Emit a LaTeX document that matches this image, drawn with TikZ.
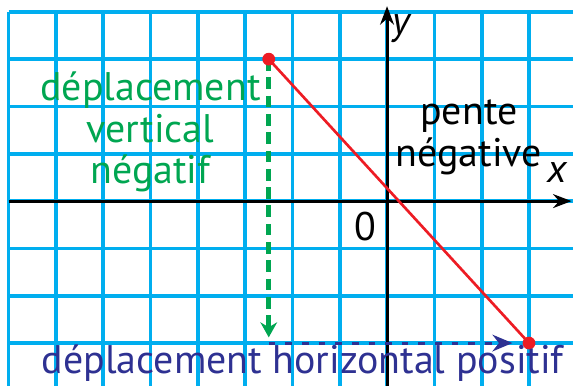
\documentclass[tikz,border=0pt]{standalone}
\usepackage{fontspec}
\setmainfont{PT Sans}
\usetikzlibrary{arrows.meta}
\definecolor{gridblue}{RGB}{0,174,239}
\definecolor{segred}{RGB}{237,28,36}
\definecolor{vertgreen}{RGB}{0,166,81}
\definecolor{horizblue}{RGB}{46,49,146}
\tikzset{
  gridline/.style={gridblue,line width=2.2pt},
  axisline/.style={->,line width=1.8pt},
  dot/.style={circle,fill=segred,inner sep=0pt,minimum size=0.27cm},
  lbl/.style={font=\fontsize{24}{25}\selectfont,inner sep=0pt},
}

\begin{document}
\begin{tikzpicture}[line width=0.8pt,>=Stealth]
\useasboundingbox (-8.18,-3.91) rectangle (3.93,4.25);
% ================= grid =================
\foreach \i in {-8,...,3}
  \draw[gridline] (\i,4) -- (\i,-3.91);
\foreach \j in {-3,...,4}
  \draw[gridline] (-8,\j) -- (3.93,\j);
% ================= axes =================
\draw[axisline] (-8,0) -- (3.9,0);
\draw[axisline] (0,-3.91) -- (0,4.12);
\node[lbl] (lblX) at (3.6,0.6) {\itshape x};
\node[lbl] (lblY) at (0.3,3.65) {\itshape y};
\node[lbl] (lblO) at (-0.45,-0.53) {0};
% ================= segment and displacements =================
\coordinate (P1) at (-2.5,3);
\coordinate (P2) at (3,-3);
\coordinate (Q) at (-2.5,-3);
\draw[segred,line width=1.6pt] (P1) -- (P2);
% vertical displacement (down), then horizontal (right)
\draw[vertgreen,line width=2.8pt,dash pattern=on 7pt off 4pt,
  -{Stealth[length=9pt,width=10pt]},shorten >=0.12cm] (P1) -- (Q);
\draw[horizblue,line width=1.8pt,dash pattern=on 4pt off 6pt,
  -{Stealth[length=12pt,width=10pt]},shorten >=0.35cm] (Q) -- (P2);
\node[dot] (D1) at (P1) {};
\node[dot] (D2) at (P2) {};
% ================= labels =================
\node[lbl,vertgreen,align=center] (lblVert) at (-5.0,1.46)
  {déplacement\\vertical\\négatif};
\node[lbl,align=center] (lblPente) at (1.73,1.35) {pente\\négative};
\node[lbl,horizblue] (lblHoriz) at (-1.78,-3.42)
  {déplacement horizontal positif};
\end{tikzpicture}
\end{document}
